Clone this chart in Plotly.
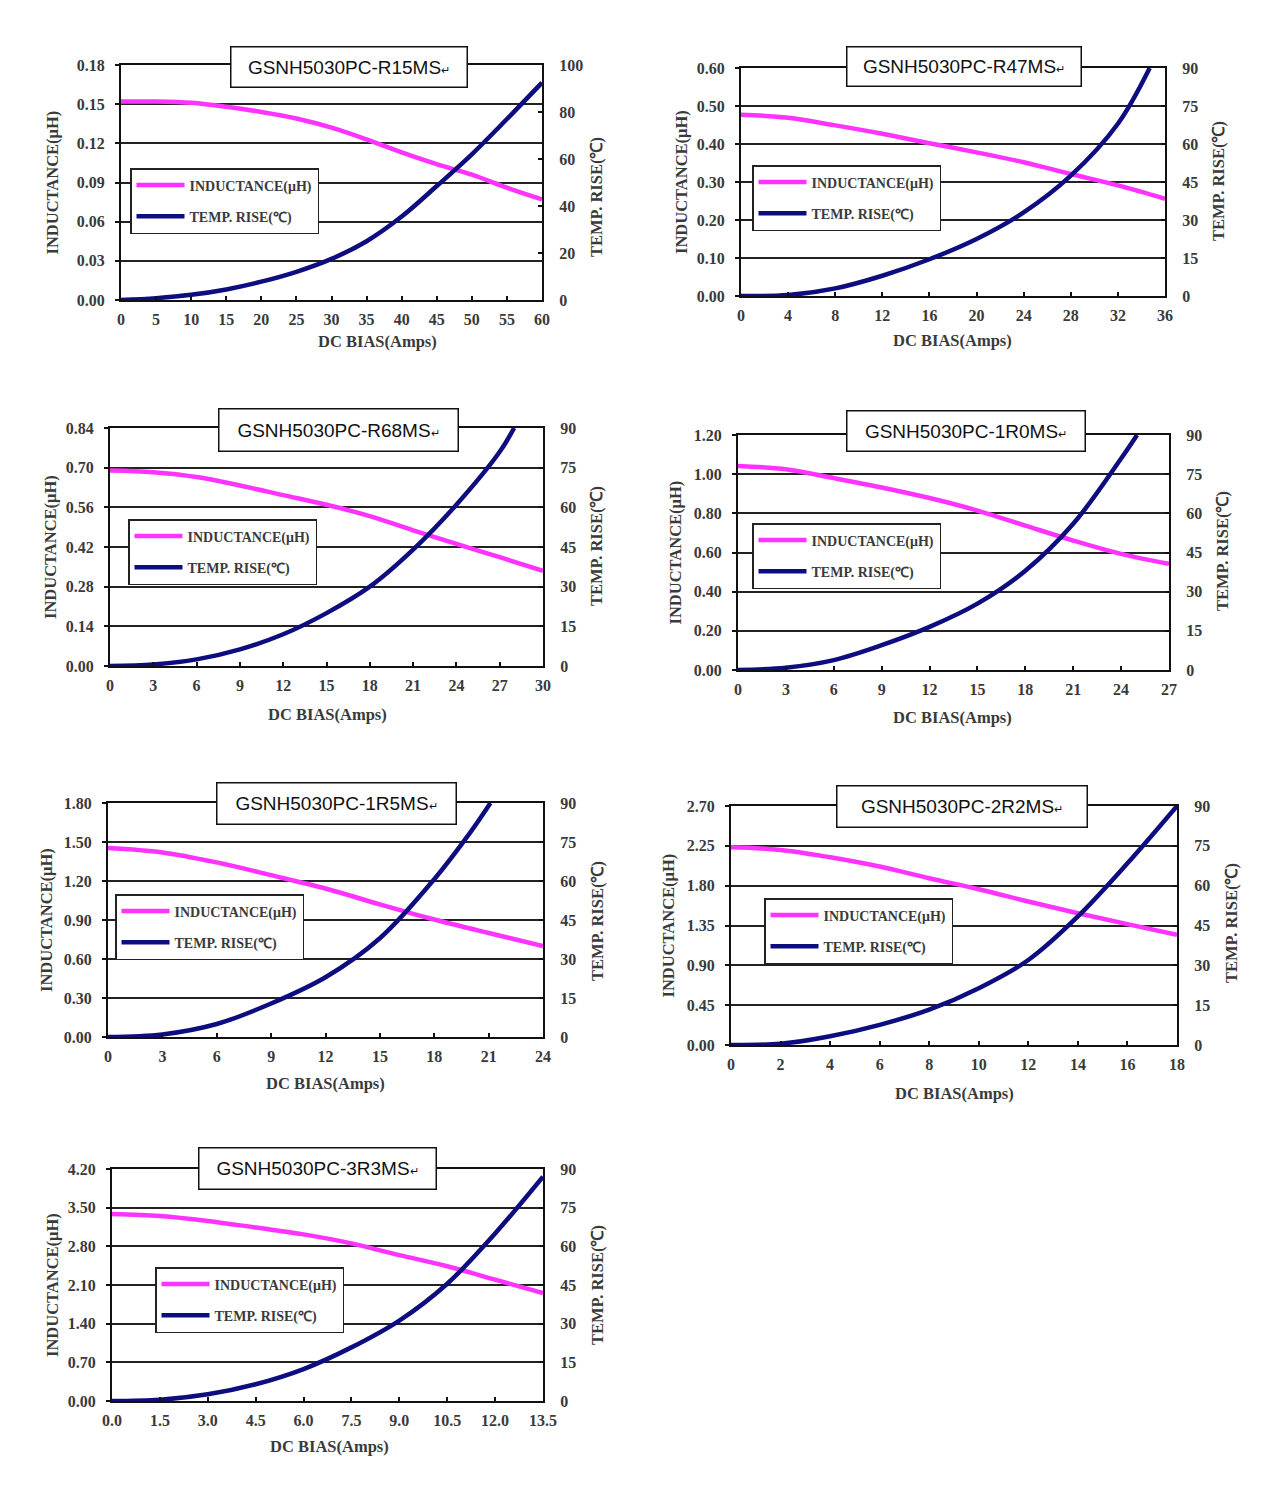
import plotly.graph_objects as go

# ---------------- data ----------------
part_names = ["GSNH5030PC-R15MS", "GSNH5030PC-R47MS", "GSNH5030PC-R68MS",
              "GSNH5030PC-1R0MS", "GSNH5030PC-1R5MS", "GSNH5030PC-2R2MS",
              "GSNH5030PC-3R3MS"]

r15_amps = [0, 5, 10, 15, 20, 25, 30, 35, 40, 45, 50, 55, 60]
r15_ind = [0.152, 0.152, 0.151, 0.148, 0.144, 0.139, 0.132, 0.123, 0.113, 0.104, 0.096, 0.086, 0.077]
r15_temp_amps = [0, 5, 10, 15, 20, 25, 30, 35, 40, 45, 50, 55, 60]
r15_temp = [0, 0.8, 2.2, 4.5, 7.8, 12, 17.5, 25, 35.5, 48.5, 62, 77, 92.5]

r47_amps = [0, 4, 8, 12, 16, 20, 24, 28, 32, 36]
r47_ind = [0.477, 0.469, 0.449, 0.427, 0.402, 0.378, 0.352, 0.321, 0.291, 0.256]
r47_temp_amps = [0, 4, 8, 12, 16, 20, 24, 28, 32, 34.7]
r47_temp = [0, 0.4, 3, 8, 14.5, 22.5, 33, 47.5, 68, 90]

r68_amps = [0, 3, 6, 9, 12, 15, 18, 21, 24, 27, 30]
r68_ind = [0.690, 0.684, 0.667, 0.637, 0.603, 0.569, 0.529, 0.479, 0.431, 0.384, 0.336]
r68_temp_amps = [0, 3, 6, 9, 12, 15, 18, 21, 24, 27, 28]
r68_temp = [0, 0.6, 2.5, 6.3, 12, 20, 30, 44, 61, 81, 90]

r1r0_amps = [0, 3, 6, 9, 12, 15, 18, 21, 24, 27]
r1r0_ind = [1.042, 1.025, 0.980, 0.932, 0.878, 0.814, 0.737, 0.661, 0.593, 0.542]
r1r0_temp_amps = [0, 3, 6, 9, 12, 15, 18, 21, 24, 25]
r1r0_temp = [0, 0.9, 3.8, 9.5, 16.5, 25.4, 38, 56, 81, 90]

r1r5_amps = [0, 3, 6, 9, 12, 15, 18, 21, 24]
r1r5_ind = [1.454, 1.420, 1.343, 1.245, 1.142, 1.020, 0.904, 0.800, 0.700]
r1r5_temp_amps = [0, 3, 6, 9, 12, 15, 18, 20, 21.1]
r1r5_temp = [0, 1.0, 5.0, 12.9, 23, 38, 60.7, 78.8, 90]

r2r2_amps = [0, 2, 4, 6, 8, 10, 12, 14, 16, 18]
r2r2_ind = [2.233, 2.204, 2.121, 2.016, 1.884, 1.760, 1.621, 1.489, 1.365, 1.245]
r2r2_temp_amps = [0, 2, 4, 6, 8, 10, 12, 14, 16, 18]
r2r2_temp = [0, 0.5, 3.3, 7.6, 13.3, 21.4, 32, 48.4, 68.4, 90]

r3r3_amps = [0, 1.5, 3, 4.5, 6, 7.5, 9, 10.5, 12, 13.5]
r3r3_ind = [3.387, 3.350, 3.260, 3.140, 3.016, 2.853, 2.640, 2.440, 2.197, 1.955]
r3r3_temp_amps = [0, 1.5, 3, 4.5, 6, 7.5, 9, 10.5, 12, 13.5]
r3r3_temp = [0, 0.5, 2.6, 6.5, 12.4, 20.8, 31.2, 45.5, 65, 87]

# axis ranges / tick steps
x_max = [60, 36, 30, 27, 24, 18, 13.5]
x_step = [5, 4, 3, 3, 3, 2, 1.5]
x_fmt = ["d", "d", "d", "d", "d", "d", ".1f"]
ind_max = [0.18, 0.60, 0.84, 1.20, 1.80, 2.70, 4.20]
ind_step = [0.03, 0.10, 0.14, 0.20, 0.30, 0.45, 0.70]
temp_max = [100, 90, 90, 90, 90, 90, 90]
temp_step = [20, 15, 15, 15, 15, 15, 15]

amps_sets = [r15_amps, r47_amps, r68_amps, r1r0_amps, r1r5_amps, r2r2_amps, r3r3_amps]
ind_sets = [r15_ind, r47_ind, r68_ind, r1r0_ind, r1r5_ind, r2r2_ind, r3r3_ind]
tamps_sets = [r15_temp_amps, r47_temp_amps, r68_temp_amps, r1r0_temp_amps,
              r1r5_temp_amps, r2r2_temp_amps, r3r3_temp_amps]
temp_sets = [r15_temp, r47_temp, r68_temp, r1r0_temp, r1r5_temp, r2r2_temp, r3r3_temp]

# ---------------- layout (pixels) ----------------
W, H = 1279, 1489
plot_box = [(121, 542, 65, 300), (741, 1165, 68, 296), (110, 543, 428, 666),
            (738, 1169, 435, 670), (108, 543, 803, 1037), (731, 1177, 806, 1045),
            (112, 543, 1169, 1401)]
title_box = [(230, 468, 46, 88), (846, 1082, 46, 87), (218, 459, 408, 452),
             (846, 1086, 410, 452), (216, 457, 782, 825), (836, 1088, 785, 828),
             (198, 437, 1147, 1190)]
legend_pos = [(130, 168), (752, 165), (128, 519), (752, 523), (115, 894), (764, 898), (155, 1267)]
left_title_x = [52, 681, 50, 675, 46, 668, 52]
right_title_x = [596, 1218, 597, 1222, 597, 1231, 597]
right_title_y = [197, 181, 546, 551, 921, 923, 1285]
xtitle_x = [377, 953, 327, 953, 325, 954, 329]
xtitle_y = [342, 341, 714, 717, 1083, 1093, 1446]

PINK = "#FF33FF"
NAVY = "#0D0D80"
SERIF = "Liberation Serif, Times New Roman, serif"
TXT = "#3a3a3a"


def px(x):
    return x / W


def py(y):
    return 1 - y / H


fig = go.Figure()
layout = dict(width=W, height=H,
              margin=dict(l=0, r=0, t=0, b=0, pad=0, autoexpand=False),
              paper_bgcolor="white", plot_bgcolor="white", showlegend=True)
annotations = []

for i in range(7):
    n = i + 1
    xa = "x" if n == 1 else f"x{n}"
    ya = f"y{2 * n - 1}" if n > 1 else "y"
    yb = f"y{2 * n}"
    xkey = "xaxis" if n == 1 else f"xaxis{n}"
    ykey_l = "yaxis" if n == 1 else f"yaxis{2 * n - 1}"
    ykey_r = f"yaxis{2 * n}"
    lg = "legend" if n == 1 else f"legend{n}"

    x0, x1, y0, y1 = plot_box[i]

    fig.add_trace(go.Scatter(
        x=amps_sets[i], y=ind_sets[i], xaxis=xa, yaxis=ya, mode="lines",
        line=dict(color=PINK, width=4.5, shape="spline", smoothing=1.0),
        name="INDUCTANCE(μH)", legend=lg, legendgroup=f"ind{n}", hoverinfo="skip"))
    fig.add_trace(go.Scatter(
        x=tamps_sets[i], y=temp_sets[i], xaxis=xa, yaxis=yb, mode="lines",
        line=dict(color=NAVY, width=4.5, shape="spline", smoothing=1.0),
        name="TEMP. RISE(℃)", legend=lg, legendgroup=f"temp{n}", hoverinfo="skip"))

    tickfont = dict(family=SERIF, size=16, color=TXT, weight="bold")

    layout[xkey] = dict(
        domain=[px(x0), px(x1)], anchor=ya, range=[0, x_max[i]],
        tick0=0, dtick=x_step[i], tickformat=x_fmt[i],
        ticks="inside", ticklen=4, tickwidth=1.5, tickcolor="#111",
        showline=True, linecolor="#111", linewidth=2, mirror=True,
        showgrid=False, zeroline=False, tickfont=tickfont, ticklabelstandoff=4,
        automargin=False)
    layout[ykey_l] = dict(
        domain=[py(y1), py(y0)], anchor=xa, range=[0, ind_max[i]],
        tick0=0, dtick=ind_step[i], tickformat=".2f",
        ticks="outside", ticklen=4, tickwidth=1.5, tickcolor="#111",
        showline=True, linecolor="#111", linewidth=2,
        showgrid=True, gridcolor="#222", gridwidth=1.6, zeroline=False,
        tickfont=tickfont, ticklabelstandoff=7, automargin=False)
    layout[ykey_r] = dict(
        overlaying=ya, side="right", anchor=xa, range=[0, temp_max[i]],
        tick0=0, dtick=temp_step[i], tickformat="d",
        ticks="inside", ticklen=4, tickwidth=1.5, tickcolor="#111",
        showline=True, linecolor="#111", linewidth=2,
        showgrid=False, zeroline=False, tickfont=tickfont, ticklabelstandoff=12,
        automargin=False)

    lx, ly = legend_pos[i]
    layout[lg] = dict(
        x=px(lx), y=py(ly), xanchor="left", yanchor="top", xref="paper", yref="paper",
        bgcolor="white", bordercolor="#222", borderwidth=1.5,
        font=dict(family=SERIF, size=14, color=TXT, weight="bold"),
        tracegroupgap=10, itemwidth=48, traceorder="grouped")

    # title box
    tx0, tx1, ty0, ty1 = title_box[i]
    annotations.append(dict(
        x=px((tx0 + tx1) / 2), y=py((ty0 + ty1) / 2), xref="paper", yref="paper",
        xanchor="center", yanchor="middle", showarrow=False,
        text=part_names[i] + "<span style='font-size:11px'>↵</span>",
        font=dict(family="Liberation Sans, Arial, sans-serif", size=19, color="#111"),
        bgcolor="white", bordercolor="#111", borderwidth=1.5, borderpad=0,
        width=(tx1 - tx0) - 3, height=(ty1 - ty0) - 3, align="center", valign="middle"))

    axis_font = dict(family=SERIF, size=16.5, color=TXT, weight="bold")
    annotations.append(dict(
        x=px(left_title_x[i]), y=py((y0 + y1) / 2), xref="paper", yref="paper",
        xanchor="center", yanchor="middle", showarrow=False, textangle=-90,
        text="INDUCTANCE(μH)", font=axis_font))
    annotations.append(dict(
        x=px(right_title_x[i]), y=py(right_title_y[i]), xref="paper", yref="paper",
        xanchor="center", yanchor="middle", showarrow=False, textangle=-90,
        text="TEMP. RISE(℃)", font=axis_font))
    annotations.append(dict(
        x=px(xtitle_x[i]), y=py(xtitle_y[i]), xref="paper", yref="paper",
        xanchor="center", yanchor="middle", showarrow=False,
        text="DC BIAS(Amps)", font=axis_font))

layout["annotations"] = annotations
fig.update_layout(**layout)
fig.write_html("out.html", config={"displayModeBar": False},
               post_script="document.body.style.margin='0';document.body.style.padding='0';")
